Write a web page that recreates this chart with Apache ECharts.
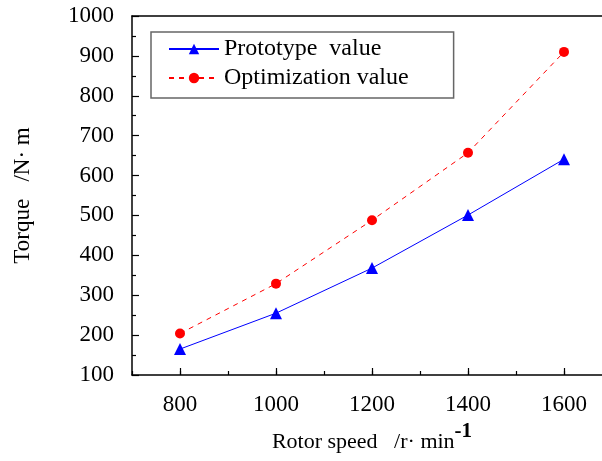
<!DOCTYPE html>
<html>
<head>
<meta charset="utf-8">
<script src="https://cdn.jsdelivr.net/npm/echarts@6/dist/echarts.min.js"></script>
<style>
html,body{margin:0;padding:0;background:#fff;}
#c{width:602px;height:461px;}
</style>
</head>
<body>
<div id="c"></div>
<script>
const speeds = [800, 1000, 1200, 1400, 1600];
const prototypeValues = [165, 255, 368, 501, 641];
const optimizationValues = [204, 329, 488, 657, 910];
const xTickLabels = ['800', '1000', '1200', '1400', '1600'];
const xPositions = ['700','800','900','1000','1100','1200','1300','1400','1500','1600','1700'];
const seriesNames = ['Prototype  value', 'Optimization value'];

const FONT = '"Liberation Serif", "DejaVu Serif", serif';
const chart = echarts.init(document.getElementById('c'), null, {renderer: 'canvas'});

const option = {
  backgroundColor: '#fff',
  animation: false,
  textStyle: {fontFamily: FONT, color: '#000'},
  grid: {left: 132, top: 16, width: 480, height: 359, containLabel: false, outerBoundsMode: 'none'},
  legend: {
    orient: 'vertical',
    left: 151, top: 32,
    data: seriesNames,
    itemWidth: 50, itemHeight: 13,
    itemGap: 5,
    padding: [5, 45, 8, 17],
    borderColor: '#666', borderWidth: 1.5,
    textStyle: {fontFamily: FONT, fontSize: 24, color: '#000', lineHeight: 24}
  },
  xAxis: [
    {
      type: 'value', min: 700, max: 1700, interval: 100,
      axisLine: {show: true, lineStyle: {color: '#000', width: 1.5}},
      axisTick: {show: true, inside: true, length: 4, lineStyle: {color: '#000', width: 1.2}},
      splitLine: {show: false},
      axisLabel: {
        fontFamily: FONT, fontSize: 23, color: '#000', margin: 18,
        formatter: v => xTickLabels.indexOf(String(v)) >= 0 ? String(v) : ''
      },
      name: '{a|Rotor speed   /r· min}{b|-1}',
      nameLocation: 'middle', nameGap: 44,
      nameTextStyle: {
        rich: {
          a: {fontFamily: FONT, fontSize: 22, color: '#000'},
          b: {fontFamily: FONT, fontSize: 21, fontWeight: 'bold', color: '#000', padding: [0, 0, 22, 0]}
        }
      }
    },
    {
      type: 'category', data: xPositions, boundaryGap: false, position: 'bottom',
      axisLine: {show: false},
      axisLabel: {show: false},
      axisTick: {show: true, inside: true, length: 7, interval: (i) => i % 2 === 1, lineStyle: {color: '#000', width: 1.2}},
      splitLine: {show: false}
    },
    {
      type: 'value', min: 700, max: 1700, position: 'top',
      axisLine: {show: true, lineStyle: {color: '#000', width: 1.5}},
      axisTick: {show: false}, axisLabel: {show: false}, splitLine: {show: false}
    }
  ],
  yAxis: [
    {
      type: 'value', min: 100, max: 1000, interval: 100,
      axisLine: {show: true, lineStyle: {color: '#000', width: 1.5}},
      axisTick: {show: true, inside: true, length: 7, lineStyle: {color: '#000', width: 1.2}},
      minorTick: {show: true, splitNumber: 2, length: 4, lineStyle: {color: '#000', width: 1.2}},
      splitLine: {show: false},
      axisLabel: {fontFamily: FONT, fontSize: 23, color: '#000', margin: 18, formatter: v => String(v)},
      name: 'Torque   /N· m',
      nameLocation: 'middle', nameGap: 98, nameRotate: 90,
      nameTextStyle: {fontFamily: FONT, fontSize: 23, color: '#000'}
    }
  ],
  series: [
    {
      name: seriesNames[0], type: 'line', xAxisIndex: 0,
      data: speeds.map((s, i) => [s, prototypeValues[i]]),
      symbol: 'triangle', symbolSize: 12,
      itemStyle: {color: '#0000ff'},
      lineStyle: {color: '#0000ff', width: 1}
    },
    {
      name: seriesNames[1], type: 'line', xAxisIndex: 0,
      data: speeds.map((s, i) => [s, optimizationValues[i]]),
      symbol: 'circle', symbolSize: 10,
      itemStyle: {color: '#ff0000'},
      lineStyle: {color: '#ff0000', width: 1, type: [5, 5]}
    }
  ]
};
chart.setOption(option);
</script>
</body>
</html>
